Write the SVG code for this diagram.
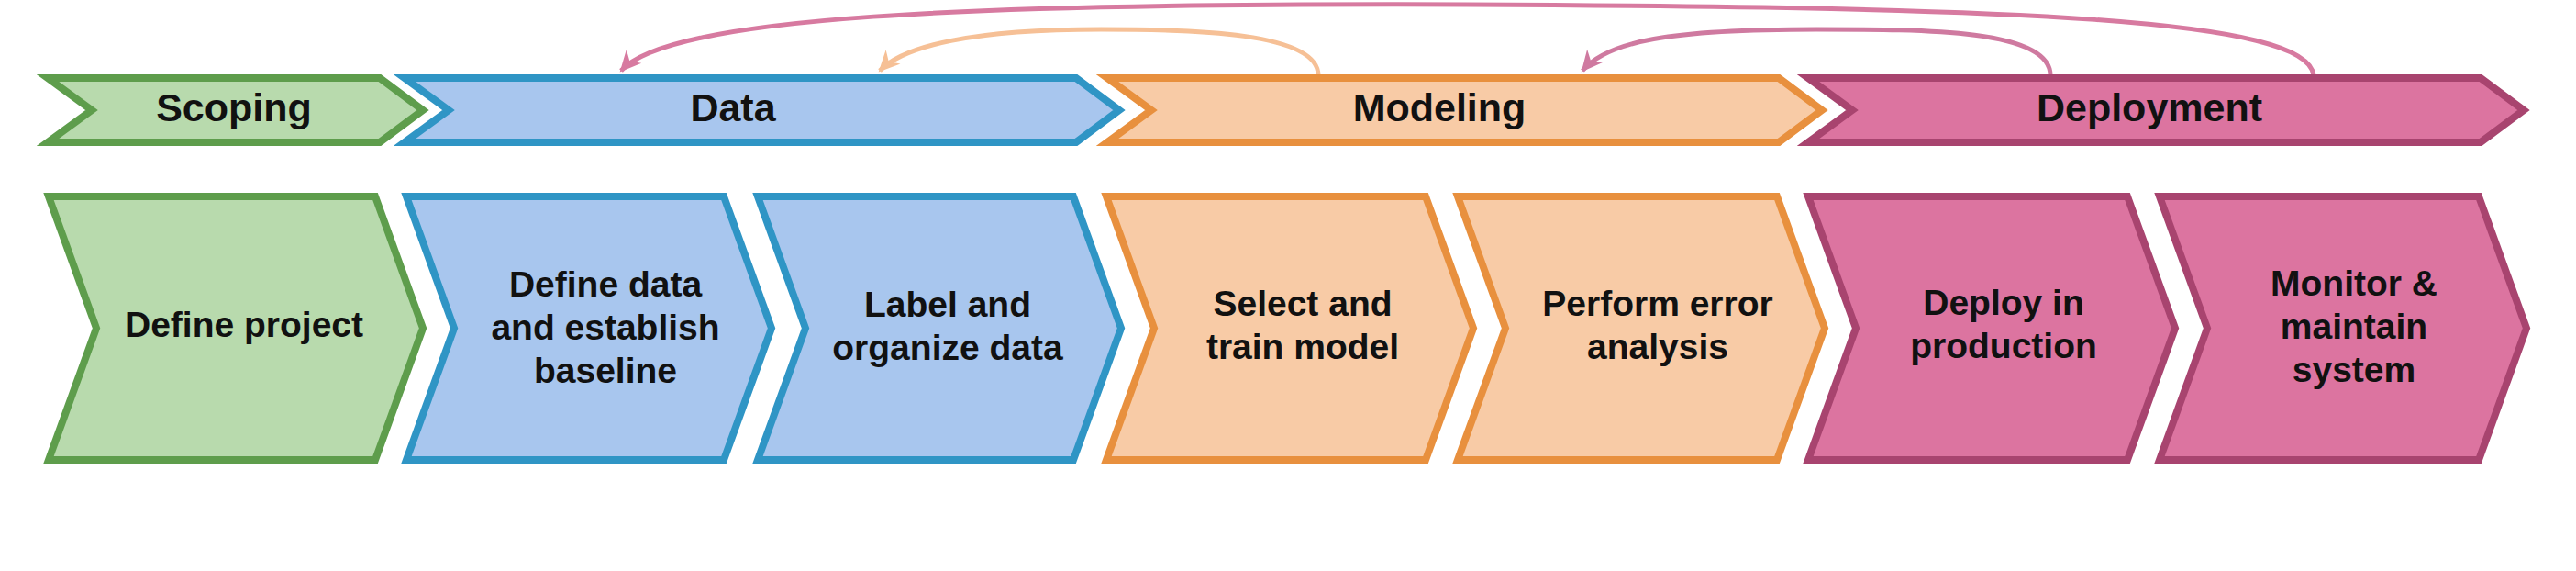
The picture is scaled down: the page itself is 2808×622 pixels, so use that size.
<svg xmlns="http://www.w3.org/2000/svg" width="2808" height="622" viewBox="0 0 2808 622">
  <style>
    .lbl { font-family: "Liberation Sans", Arial, sans-serif; font-weight: bold; fill: #111111; text-anchor: middle; }
    .phase { font-size: 43px; }
    .step { font-size: 39px; }
    .shape { stroke-width: 8; stroke-linejoin: miter; stroke-miterlimit: 10; }
    .green { fill: #b8daad; stroke: #5e9d4c; }
    .blue { fill: #a8c6ee; stroke: #2f95c5; }
    .orange { fill: #f8cba6; stroke: #e8903e; }
    .pink { fill: #dc74a0; stroke: #a8446f; }
    .conn { fill: none; stroke-width: 5; stroke-linecap: butt; }
  </style>
  <defs>
    <marker id="ahPink" markerUnits="userSpaceOnUse" markerWidth="30" markerHeight="26" viewBox="-25 -13 30 26" refX="0" refY="0" orient="auto">
      <path d="M2,0 L-21,-11 L-14,0 L-21,11 Z" fill="#d77aa0"/>
    </marker>
    <marker id="ahPink2" markerUnits="userSpaceOnUse" markerWidth="30" markerHeight="26" viewBox="-25 -13 30 26" refX="0" refY="0" orient="auto">
      <path d="M2,0 L-21,-11 L-14,0 L-21,11 Z" fill="#cf7aa0"/>
    </marker>
    <marker id="ahOrange" markerUnits="userSpaceOnUse" markerWidth="30" markerHeight="26" viewBox="-25 -13 30 26" refX="0" refY="0" orient="auto">
      <path d="M2,0 L-21,-11 L-14,0 L-21,11 Z" fill="#f6c096"/>
    </marker>
  </defs>
  <rect x="0" y="0" width="2808" height="622" fill="#ffffff"/>

  <g id="connectors">
    <path class="conn" stroke="#d77aa0" d="M2522,82 C2515,20 2200,8 1600,5 C1050,3 730,18 677,77" marker-end="url(#ahPink)"/>
    <path class="conn" stroke="#cf7aa0" d="M2235,82 C2235,32 2100,32 1980,32 C1820,32 1752,45 1725,77" marker-end="url(#ahPink2)"/>
    <path class="conn" stroke="#f6c096" d="M1437,82 C1437,35 1300,32 1200,32 C1060,32 985,50 959,77" marker-end="url(#ahOrange)"/>
  </g>

  <g id="phase-scoping">
    <path class="shape green" d="M52,85 L414,85 L461,120 L414,155 L52,155 L100,120 Z"/>
    <text class="lbl phase" x="255" y="132">Scoping</text>
  </g>
  <g id="phase-data">
    <path class="shape blue" d="M441,85 L1173,85 L1220,120 L1173,155 L441,155 L489,120 Z"/>
    <text class="lbl phase" x="799" y="132">Data</text>
  </g>
  <g id="phase-modeling">
    <path class="shape orange" d="M1207,85 L1939,85 L1986,120 L1939,155 L1207,155 L1255,120 Z"/>
    <text class="lbl phase" x="1569" y="132">Modeling</text>
  </g>
  <g id="phase-deployment">
    <path class="shape pink" d="M1971,85 L2704,85 L2751,120 L2704,155 L1971,155 L2019,120 Z"/>
    <text class="lbl phase" x="2343" y="132">Deployment</text>
  </g>

  <g id="step-define-project">
    <path class="shape green" d="M53,214 L409,214 L461,357.5 L409,501 L53,501 L105,357.5 Z"/>
    <text class="lbl step" x="266" y="367">Define project</text>
  </g>
  <g id="step-define-data">
    <path class="shape blue" d="M443,214 L789,214 L841,357.5 L789,501 L443,501 L495,357.5 Z"/>
    <text class="lbl step" x="660" y="323">Define data</text>
    <text class="lbl step" x="660" y="370">and establish</text>
    <text class="lbl step" x="660" y="417">baseline</text>
  </g>
  <g id="step-label-data">
    <path class="shape blue" d="M826,214 L1170,214 L1222,357.5 L1170,501 L826,501 L878,357.5 Z"/>
    <text class="lbl step" x="1033" y="345">Label and</text>
    <text class="lbl step" x="1033" y="392">organize data</text>
  </g>
  <g id="step-train-model">
    <path class="shape orange" d="M1206,214 L1554,214 L1606,357.5 L1554,501 L1206,501 L1258,357.5 Z"/>
    <text class="lbl step" x="1420" y="344">Select and</text>
    <text class="lbl step" x="1420" y="391">train model</text>
  </g>
  <g id="step-error-analysis">
    <path class="shape orange" d="M1589,214 L1937,214 L1989,357.5 L1937,501 L1589,501 L1641,357.5 Z"/>
    <text class="lbl step" x="1807" y="344">Perform error</text>
    <text class="lbl step" x="1807" y="391">analysis</text>
  </g>
  <g id="step-deploy">
    <path class="shape pink" d="M1971,214 L2319,214 L2371,357.5 L2319,501 L1971,501 L2023,357.5 Z"/>
    <text class="lbl step" x="2184" y="343">Deploy in</text>
    <text class="lbl step" x="2184" y="390">production</text>
  </g>
  <g id="step-monitor">
    <path class="shape pink" d="M2354,214 L2702,214 L2754,357.5 L2702,501 L2354,501 L2406,357.5 Z"/>
    <text class="lbl step" x="2566" y="322">Monitor &amp;</text>
    <text class="lbl step" x="2566" y="369">maintain</text>
    <text class="lbl step" x="2566" y="416">system</text>
  </g>
</svg>
